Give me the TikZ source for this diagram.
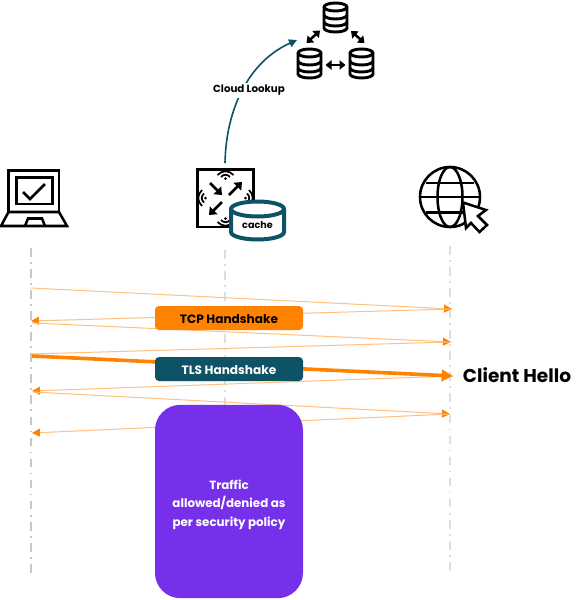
\documentclass[tikz,border=0pt]{standalone}
\usepackage{fontspec}
\setmainfont{Poppins}
\usetikzlibrary{arrows.meta}
\definecolor{hpeorange}{HTML}{FF8300}
\definecolor{hpelight}{HTML}{FFC080}
\definecolor{hpeteal}{HTML}{0D5265}
\definecolor{hpepurple}{HTML}{7630EA}
\tikzset{
  px/.style={x=0.75pt,y=-0.75pt},
  lifeL/.style={draw=black!22,line width=1.3pt,dash pattern=on 6.5pt off 4pt on 1.3pt off 4pt},
  lifeM/.style={draw=black!13,line width=1.3pt,dash pattern=on 6.5pt off 4pt on 1.3pt off 4pt},
  msg/.style={draw=hpelight,line width=0.75pt,-{Triangle[length=6pt,width=6pt,color=hpeorange]}},
  msgplain/.style={draw=hpelight,line width=0.75pt},
  msgbold/.style={draw=hpeorange,line width=2.7pt,-{Triangle[length=8.5pt,width=8.5pt,color=hpeorange]}},
  band/.style={minimum width=111pt,minimum height=18pt,rounded corners=3pt,inner sep=0pt,font=\bfseries\fontsize{9.1}{11}\selectfont},
  icon/.style={draw=black,line width=1.9pt,line join=miter},
  dblarrow/.style={draw=black,line width=1.9pt,{Triangle[length=4.5pt,width=7pt]}-{Triangle[length=4.5pt,width=7pt]}},
  corner/.style={draw=black,line width=2.1pt,-{Triangle[length=5pt,width=8pt]}},
  wave/.style={draw=black,line width=1.3pt},
  dbshape/.style={draw=black,line width=2.2pt},
}
\newcommand{\dbicon}[2]{%
  \begin{scope}[shift={(#1,#2)}]
    \path[dbshape,fill=white] (-11.5,-10) -- (-11.5,11) arc[x radius=11.5,y radius=4,start angle=180,end angle=0] -- (11.5,-10) arc[x radius=11.5,y radius=4,start angle=0,end angle=-180] -- cycle;
    \draw[dbshape] (11.5,-10) arc[x radius=11.5,y radius=4,start angle=0,end angle=180];
    \draw[dbshape] (11.5,-2) arc[x radius=11.5,y radius=4,start angle=0,end angle=180];
    \draw[dbshape] (11.5,5) arc[x radius=11.5,y radius=4,start angle=0,end angle=180];
  \end{scope}}
\newcommand{\waves}[3]{%
  \begin{scope}[shift={(#1,#2)},rotate=#3]
    \fill (0,-1.5) circle[radius=1.5];
    \draw[wave] (-4.5,-3) .. controls (-2,-6) and (2,-6) .. (4.5,-3);
    \draw[wave] (-8,-5) .. controls (-3,-10) and (3,-10) .. (8,-5);
  \end{scope}}
\begin{document}
\begin{tikzpicture}[px]
\useasboundingbox (0,0) rectangle (586,600);
\fill[white] (0,0) rectangle (586,600);

% lifelines
\coordinate (lt) at (31,248); \coordinate (lb) at (31,575);
\coordinate (mt) at (225,250); \coordinate (mb) at (225,405);
\coordinate (rt) at (450,246); \coordinate (rb) at (450,575);
\draw[lifeL] (lt) -- (lb);
\draw[lifeM] (mt) -- (mb);
\draw[lifeM] (rt) -- (rb);

% message end points
\coordinate (a1) at (31,288);   \coordinate (b1) at (452,309);
\coordinate (a2) at (31,321);
\coordinate (a3) at (32,323);   \coordinate (b3) at (451,342);
\coordinate (a4) at (31,354);
\coordinate (a5) at (32,356);   \coordinate (b5) at (453,376);
\coordinate (a6) at (32,391);
\coordinate (a7) at (33,392);   \coordinate (b7) at (450,414);
\coordinate (a8) at (32,433);

\draw[msg] (a1) -- (b1);
\draw[msg] (b1) -- (a2);
\draw[msg] (a3) -- (b3);
\draw[msgplain] (a4) -- (b3);
\draw[msg] (b5) -- (a6);
\draw[msg] (a7) -- (b7);
\draw[msg] (b7) -- (a8);
\draw[msgbold] (a5) -- (b5);

% bands
\node[band,fill=hpeorange] (tcp) at (229,318) {};
\node[band,text=black] (tcptext) at (229,319.5) {TCP Handshake};
\node[band,fill=hpeteal] (tls) at (229,369) {};
\node[band,text=white] (tlstext) at (229,370.5) {TLS Handshake};
\node[fill=hpepurple,minimum width=111pt,minimum height=145pt,rounded corners=19pt,inner sep=0pt] (policy) at (229,501.5) {};
\node[text=white,inner sep=0pt,align=center,font=\bfseries\fontsize{8.9}{14}\selectfont] (policytext) at (229,504.5)
      {Traffic\\allowed/denied as\\per security policy};
\node[font=\bfseries\fontsize{13.9}{16}\selectfont,text=black,inner sep=0pt] (hello) at (517,375) {Client Hello};

% laptop
\draw[icon] (8.5,212) -- (8.5,170.5) -- (59,170.5) -- (59,212);
\draw[icon] (16.5,177.5) rectangle (52.5,204);
\draw[icon] (23,192) -- (30,199) -- (45,184);
\draw[icon] (8.5,212) -- (59,212) -- (67,226) -- (1,226) -- cycle;
\draw[icon] (25,226) -- (28,218.5) -- (42,218.5) -- (45,226);
\coordinate (laptop) at (34,198);

% router
\draw[icon,line width=2.2pt] (197.5,169.5) rectangle (253.5,227);
\waves{225.5}{180}{0}
\waves{225.5}{217}{180}
\waves{207}{198}{90}
\waves{244}{198}{-90}
\draw[corner] (210,183) -- (222,195);
\draw[corner] (229,195) -- (242,182);
\draw[corner] (222,202) -- (209,215);
\coordinate (router) at (225,163);

% cache cylinder
\path[draw=hpeteal,line width=3pt,fill=white]
  (231,209) -- (231,232) arc[x radius=26.5,y radius=7.5,start angle=180,end angle=0] -- (284,209)
  arc[x radius=26.5,y radius=7.5,start angle=0,end angle=-180] -- cycle;
\draw[hpeteal,line width=3pt] (284,209) arc[x radius=26.5,y radius=7.5,start angle=0,end angle=180];
\node[font=\bfseries\fontsize{7.2}{9}\selectfont,inner sep=0pt] (cache) at (257.5,225) {cache};

% globe
\draw[icon] (450,197) circle[radius=30];
\draw[icon] (450,197) ellipse[x radius=12.5,y radius=30];
\draw[icon] (426,183) -- (474,183);
\draw[icon] (420,197) -- (480,197);
\draw[icon] (426,212.5) -- (474,212.5);
\path[icon,fill=white,line join=miter]
  (463,202.5) -- (486,210) -- (478,216) -- (487,225) -- (479.5,232) -- (471,223) -- (466,228) -- cycle;

% database cluster
\dbicon{335.5}{17}
\dbicon{309.5}{63}
\dbicon{361.5}{63}
\coordinate (dbtl) at (306.5,43); \coordinate (dbtr) at (320,30.5);
\coordinate (dbrl) at (351,31);   \coordinate (dbrr) at (364.5,43);
\coordinate (dbhl) at (325.5,65); \coordinate (dbhr) at (345.5,65);
\draw[dblarrow] (dbtl) -- (dbtr);
\draw[dblarrow] (dbrl) -- (dbrr);
\draw[dblarrow] (dbhl) -- (dbhr);
\coordinate (cluster) at (297,40);

% cloud lookup
\draw[draw=hpeteal,line width=1.2pt,-{Triangle[length=6pt,width=6pt]}]
  (router) .. controls (226,110) and (248,62) .. (cluster);
\node[fill=white,inner sep=1.5pt,font=\bfseries\fontsize{7.7}{9}\selectfont] (lookup) at (249,90.5) {Cloud Lookup};
\end{tikzpicture}
\end{document}
